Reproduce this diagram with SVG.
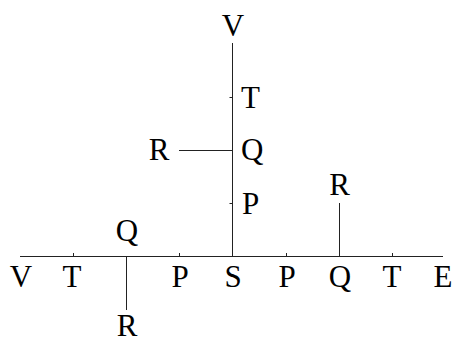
<svg xmlns="http://www.w3.org/2000/svg" width="453" height="343" viewBox="0 0 453 343">
<style>
.ln{stroke:#222;stroke-width:1;fill:none}
.t{font-family:"Liberation Serif","Times New Roman",serif;font-size:31px;fill:#000}
.m{text-anchor:middle}
</style>
<rect width="453" height="343" fill="#fff"/>
<g id="connectors">
<line class="ln" x1="20" y1="256.5" x2="443" y2="256.5"/>
<line class="ln" x1="232.5" y1="43" x2="232.5" y2="256.5"/>
<line class="ln" x1="126.5" y1="256.5" x2="126.5" y2="310"/>
<line class="ln" x1="339.5" y1="203" x2="339.5" y2="256.5"/>
<line class="ln" x1="179" y1="150.5" x2="232.5" y2="150.5"/>
<line class="ln" x1="73.5" y1="253" x2="73.5" y2="256.5"/>
<line class="ln" x1="179.5" y1="253" x2="179.5" y2="256.5"/>
<line class="ln" x1="286.5" y1="253" x2="286.5" y2="256.5"/>
<line class="ln" x1="392.5" y1="253" x2="392.5" y2="256.5"/>
<line class="ln" x1="229.5" y1="97.5" x2="232.5" y2="97.5"/>
<line class="ln" x1="229.5" y1="203.5" x2="232.5" y2="203.5"/>
</g>
<g id="axis-labels">
<text class="t m" x="21" y="287">V</text>
<text class="t m" x="72" y="287">T</text>
<text class="t m" x="180" y="287">P</text>
<text class="t m" x="233" y="287">S</text>
<text class="t m" x="287" y="287">P</text>
<text class="t m" x="340" y="287">Q</text>
<text class="t m" x="392" y="287">T</text>
<text class="t m" x="443" y="287">E</text>
</g>
<g id="node-V-top"><text class="t m" x="233" y="36">V</text></g>
<g id="node-T-vert"><text class="t" x="241" y="108">T</text></g>
<g id="node-Q-vert"><text class="t" x="241" y="160">Q</text></g>
<g id="node-R-left"><text class="t m" x="159" y="160">R</text></g>
<g id="node-P-vert"><text class="t" x="242" y="214">P</text></g>
<g id="node-R-right"><text class="t m" x="339.5" y="195">R</text></g>
<g id="node-Q-left"><text class="t m" x="127" y="241">Q</text></g>
<g id="node-R-bottom"><text class="t m" x="127" y="336">R</text></g>
</svg>
